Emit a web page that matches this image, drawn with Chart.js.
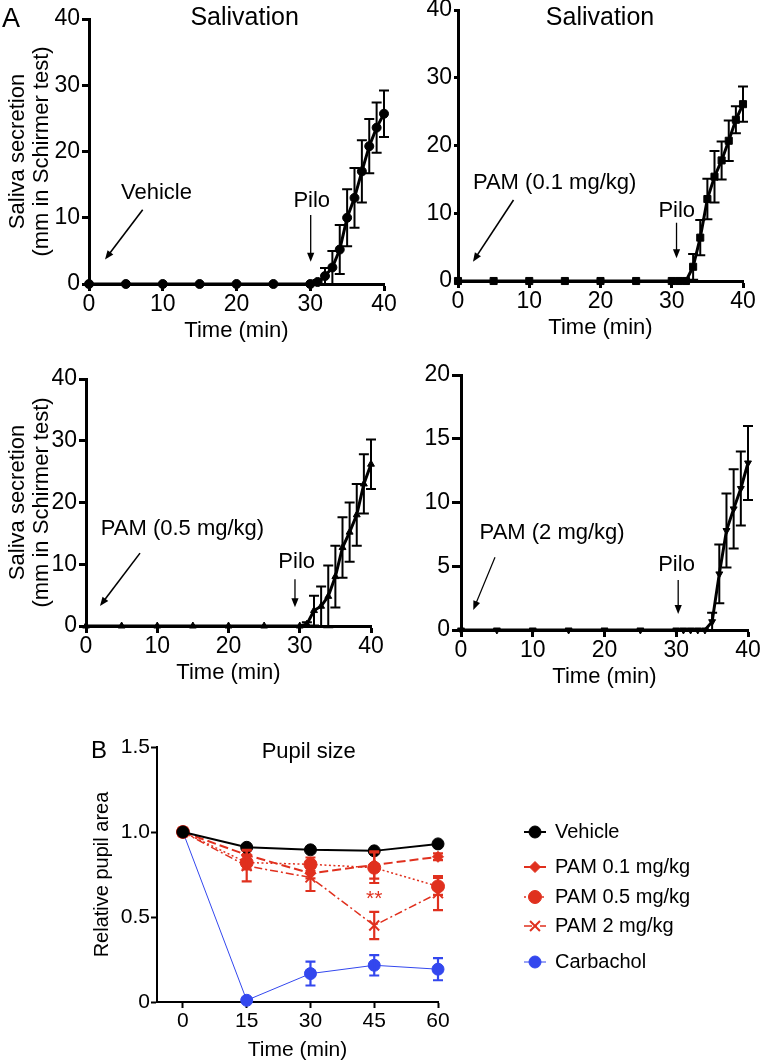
<!DOCTYPE html>
<html>
<head>
<meta charset="utf-8">
<script src="https://cdn.jsdelivr.net/npm/chart.js@4.4.1/dist/chart.umd.min.js"></script>
<style>
  body { margin: 0; background: #fff; width: 762px; height: 1064px; position: relative; overflow: hidden; }
  canvas { position: absolute; }
</style>
</head>
<body>
<canvas id="c1" width="400" height="347" style="left:0;top:0"></canvas>
<canvas id="c2" width="382" height="354" style="left:380px;top:-10px"></canvas>
<canvas id="c3" width="395" height="349" style="left:0;top:340px"></canvas>
<canvas id="c4" width="382" height="353" style="left:380px;top:340px"></canvas>
<canvas id="c5" width="762" height="364" style="left:0;top:700px"></canvas>
<script>
// ---- DATA ----
// A: salivation (mm in Schirmer test), mean and SEM
const salivaTimes = [0, 5, 10, 15, 20, 25, 30, 31, 32, 33, 34, 35, 36, 37, 38, 39, 40];
const vehicleSaliva = [0, 0, 0, 0, 0, 0, 0, 0.3, 1.2, 2.5, 5.2, 10, 13, 17, 20.8, 23.6, 25.7];
const vehicleSalivaErr = [0, 0, 0, 0, 0, 0, 0, 0.3, 1.2, 2.5, 3.7, 4.3, 4.5, 4.7, 4.1, 3.8, 3.5];
const pam01Saliva = [0, 0, 0, 0, 0, 0, 0, 0, 0, 2.1, 6.4, 12.1, 15.4, 17.8, 20.7, 23.8, 26.1];
const pam01SalivaErr = [0, 0, 0, 0, 0, 0, 0, 0, 0, 1.9, 2.6, 3, 3.8, 2.8, 3, 2, 2.6];
const pam05Saliva = [0, 0, 0, 0, 0, 0, 0, 0.3, 2.5, 3.2, 4.8, 8, 12.7, 15.2, 18, 23, 26.2];
const pam05SalivaErr = [0, 0, 0, 0, 0, 0, 0, 0.3, 2.4, 3.2, 5, 5, 4.9, 4.8, 5, 4.8, 4];
const pam2Saliva = [0, 0, 0, 0, 0, 0, 0, 0, 0, 0, 0, 0.65, 4.4, 7.8, 9.5, 11.1, 13.1];
const pam2SalivaErr = [0, 0, 0, 0, 0, 0, 0, 0, 0, 0, 0, 0.7, 2.3, 2.9, 3.1, 2.9, 2.9];

// B: relative pupil area
const pupilTimes = [0, 15, 30, 45, 60];
const pupilLabels = ['Vehicle', 'PAM 0.1 mg/kg', 'PAM 0.5 mg/kg', 'PAM 2 mg/kg', 'Carbachol'];
const vehiclePupil = [1.0, 0.91, 0.895, 0.889, 0.93];
const vehiclePupilErr = [0, 0, 0, 0, 0];
const pam01Pupil = [1.0, 0.865, 0.757, 0.806, 0.854];
const pam01PupilErr = [0, 0.03, 0.03, 0.08, 0.02];
const pam05Pupil = [1.0, 0.82, 0.81, 0.79, 0.68];
const pam05PupilErr = [0, 0.04, 0.04, 0.09, 0.05];
const pam2Pupil = [1.0, 0.80, 0.733, 0.45, 0.64];
const pam2PupilErr = [0, 0.09, 0.08, 0.08, 0.1];
const carbPupil = [1.0, 0.01, 0.167, 0.216, 0.193];
const carbPupilErr = [0, 0, 0.07, 0.06, 0.065];

const salivaXTicks = [0, 10, 20, 30, 40];
const pupilXTicks = [0, 15, 30, 45, 60];
const pupilYTicks = [0, 0.5, 1.0, 1.5];

const RED = '#e0301e';
const BLUE = '#3347ee';
const FONT = "'Liberation Sans', Arial, Helvetica, sans-serif";

Chart.defaults.font.family = FONT;
Chart.defaults.color = '#000';

// text, arrows, error bars, legend — per canvas
const decor = {
  c1: { cap: 5, errWidth: 2,
        letter: { text: 'A', x: 2, y: 27, size: 27 },
        title: { text: 'Salivation', x: 21.1, y: 39.06, size: 25 },
        notes: [{ text: 'Vehicle', x: 9.15, y: 12.9, size: 22 }, { text: 'Pilo', x: 30.2, y: 11.6, size: 22 }],
        arrows: [{ from: [7.28, 11.2], to: [2.17, 3.7], w: 1.6 }, { from: [30.06, 10.4], to: [30.06, 3.36], w: 1.3 }] },
  c2: { cap: 5, errWidth: 2,
        title: { text: 'Salivation', x: 19.93, y: 37.8, size: 25 },
        notes: [{ text: 'PAM (0.1 mg/kg)', x: 13.56, y: 13.6, size: 22 }, { text: 'Pilo', x: 30.7, y: 9.5, size: 22 }],
        arrows: [{ from: [7.79, 11.96], to: [2.1, 2.85], w: 1.6 }, { from: [30.67, 8.6], to: [30.67, 3.35], w: 1.3 }] },
  c3: { cap: 5, errWidth: 2,
        notes: [{ text: 'PAM (0.5 mg/kg)', x: 13.54, y: 14.76, size: 22 }, { text: 'Pilo', x: 29.57, y: 9.35, size: 22 }],
        arrows: [{ from: [7.58, 11.8], to: [1.96, 3.24], w: 1.6 }, { from: [29.33, 7.57], to: [29.33, 3.03], w: 1.3 }] },
  c4: { cap: 5, errWidth: 2,
        notes: [{ text: 'PAM (2 mg/kg)', x: 12.7, y: 7.14, size: 22 }, { text: 'Pilo', x: 30.04, y: 4.65, size: 22 }],
        arrows: [{ from: [4.74, 5.7], to: [1.71, 1.57], w: 1.2 }, { from: [30.27, 3.92], to: [30.27, 1.25], w: 1.3 }] },
  c5: { cap: 5, errWidth: 2.2,
        letter: { text: 'B', x: 91, y: 58, size: 24 },
        title: { text: 'Pupil size', x: 29.6, y: 1.435, size: 22 },
        notes: [{ text: '**', x: 45, y: 0.57, size: 21, color: RED }],
        arrows: [],
        legend: { lineX: [524, 546], textX: 555, rows: [132, 167, 197, 226, 262], size: 20 } }
};

function drawArrow(ctx, x1, y1, x2, y2, w) {
  const head = 9, half = 3.6;
  const a = Math.atan2(y2 - y1, x2 - x1);
  const c = Math.cos(a), s = Math.sin(a);
  ctx.lineWidth = w;
  ctx.beginPath();
  ctx.moveTo(x1, y1);
  ctx.lineTo(x2 - c * head * 0.8, y2 - s * head * 0.8);
  ctx.stroke();
  ctx.beginPath();
  ctx.moveTo(x2, y2);
  ctx.lineTo(x2 - head * c + half * s, y2 - head * s - half * c);
  ctx.lineTo(x2 - head * c - half * s, y2 - head * s + half * c);
  ctx.closePath();
  ctx.fill();
}

function marker(ctx, ds, x, y) {
  const opts = { pointStyle: ds.pointStyle, radius: ds.pointRadius, borderWidth: ds.pointBorderWidth, rotation: ds.pointRotation || 0 };
  if (Chart.helpers && Chart.helpers.drawPoint) {
    Chart.helpers.drawPoint(ctx, opts, x, y);
  } else {
    ctx.beginPath(); ctx.arc(x, y, ds.pointRadius, 0, Math.PI * 2); ctx.fill();
  }
}

const decorPlugin = {
  id: 'decor',
  afterDatasetsDraw(chart) {
    const d = decor[chart.canvas.id];
    const ctx = chart.ctx;
    const xs = chart.scales.x, ys = chart.scales.y;

    // ERROR BARS
    chart.data.datasets.forEach((ds, di) => {
      if (!ds.errors) return;
      const meta = chart.getDatasetMeta(di);
      ctx.save();
      ctx.strokeStyle = ds.borderColor;
      ctx.lineWidth = d.errWidth;
      ctx.setLineDash([]);
      meta.data.forEach((pt, i) => {
        const e = ds.errors[i];
        if (!e) return;
        const v = ds.data[i].y;
        const top = ys.getPixelForValue(v + e), bot = ys.getPixelForValue(v - e);
        ctx.beginPath();
        ctx.moveTo(pt.x, top); ctx.lineTo(pt.x, bot);
        ctx.moveTo(pt.x - d.cap, top); ctx.lineTo(pt.x + d.cap, top);
        ctx.moveTo(pt.x - d.cap, bot); ctx.lineTo(pt.x + d.cap, bot);
        ctx.stroke();
      });
      ctx.restore();
    });

    ctx.save();
    ctx.fillStyle = '#000';
    ctx.strokeStyle = '#000';

    // TITLE
    if (d.title) {
      ctx.font = d.title.size + 'px ' + FONT;
      ctx.textAlign = 'center';
      ctx.textBaseline = 'alphabetic';
      ctx.fillText(d.title.text, xs.getPixelForValue(d.title.x), ys.getPixelForValue(d.title.y));
    }
    // PANEL LETTER
    if (d.letter) {
      ctx.font = d.letter.size + 'px ' + FONT;
      ctx.textAlign = 'left';
      ctx.textBaseline = 'alphabetic';
      ctx.fillText(d.letter.text, d.letter.x, d.letter.y);
    }
    // NOTES
    d.notes.forEach(n => {
      ctx.fillStyle = n.color || '#000';
      ctx.font = n.size + 'px ' + FONT;
      ctx.textAlign = 'center';
      ctx.textBaseline = 'alphabetic';
      ctx.fillText(n.text, xs.getPixelForValue(n.x), ys.getPixelForValue(n.y));
    });
    ctx.fillStyle = '#000';
    // ARROWS
    d.arrows.forEach(a => {
      drawArrow(ctx, xs.getPixelForValue(a.from[0]), ys.getPixelForValue(a.from[1]),
                xs.getPixelForValue(a.to[0]), ys.getPixelForValue(a.to[1]), a.w);
    });

    // LEGEND
    if (d.legend) {
      const L = d.legend;
      chart.data.datasets.forEach((ds, i) => {
        const y = L.rows[i];
        ctx.strokeStyle = ds.borderColor;
        ctx.fillStyle = ds.borderColor;
        ctx.lineWidth = ds.borderWidth;
        ctx.setLineDash(ds.borderDash || []);
        ctx.beginPath();
        ctx.moveTo(L.lineX[0], y); ctx.lineTo(L.lineX[1], y);
        ctx.stroke();
        ctx.setLineDash([]);
        ctx.lineWidth = ds.pointBorderWidth;
        marker(ctx, ds, (L.lineX[0] + L.lineX[1]) / 2, y);
        ctx.fillStyle = '#000';
        ctx.font = L.size + 'px ' + FONT;
        ctx.textAlign = 'left';
        ctx.textBaseline = 'middle';
        ctx.fillText(pupilLabels[i], L.textX, y);
      });
    }
    ctx.restore();
  }
};

function axisStyle(tickLen, width) {
  return {
    grid: { drawOnChartArea: false, tickLength: tickLen, tickColor: '#000', tickWidth: width },
    border: { color: '#000', width: width }
  };
}

// SALIVATION PANELS
function salivaChart(id, cfg) {
  const yScale = Object.assign({
    type: 'linear', min: 0, max: cfg.yMax,
    ticks: { stepSize: cfg.yStep, font: { size: 23 }, padding: 2 },
    afterFit: s => { s.width = cfg.yW; }
  }, axisStyle(cfg.tickLen, 3));
  if (cfg.yTitle) {
    yScale.title = { display: true, text: ['Saliva secretion', '(mm in Schirmer test)'],
      font: { size: 22, lineHeight: 1.1 }, color: '#000', padding: { top: 6, bottom: 0 } };
  }
  return new Chart(document.getElementById(id), {
    type: 'line',
    data: {
      datasets: [{
        data: salivaTimes.map((t, i) => ({ x: t, y: cfg.values[i] })),
        errors: cfg.errors,
        borderColor: '#000',
        backgroundColor: '#000',
        borderWidth: 3,
        pointStyle: cfg.pointStyle,
        pointRotation: cfg.rotation || 0,
        pointRadius: cfg.radius,
        pointBackgroundColor: '#000',
        pointBorderColor: '#000',
        pointBorderWidth: 1,
        tension: 0,
        clip: false
      }]
    },
    options: {
      responsive: false, animation: false, events: [], devicePixelRatio: 1,
      layout: { padding: cfg.pad },
      plugins: { legend: { display: false }, tooltip: { enabled: false } },
      scales: {
        x: Object.assign({
          type: 'linear', min: 0, max: 40,
          ticks: { font: { size: 23 }, padding: 0, maxRotation: 0 },
          afterBuildTicks: s => { s.ticks = salivaXTicks.map(v => ({ value: v })); },
          title: { display: true, text: 'Time (min)', font: { size: 22, lineHeight: 1.15 }, color: '#000', padding: { top: 0, bottom: 3 } },
          afterFit: s => { s.height = 63; }
        }, axisStyle(7, 3)),
        y: yScale
      }
    },
    plugins: [decorPlugin]
  });
}

salivaChart('c1', { values: vehicleSaliva, errors: vehicleSalivaErr, pointStyle: 'circle', radius: 4.5,
  yMax: 40, yStep: 10, yTitle: true, yW: 89, tickLen: 7, pad: { top: 19, right: 16, left: 0, bottom: 0 } });
salivaChart('c2', { values: pam01Saliva, errors: pam01SalivaErr, pointStyle: 'rect', radius: 5,
  yMax: 40, yStep: 10, yTitle: false, yW: 78, tickLen: 4, pad: { top: 20, right: 19, left: 0, bottom: 0 } });
salivaChart('c3', { values: pam05Saliva, errors: pam05SalivaErr, pointStyle: 'triangle', radius: 4,
  yMax: 40, yStep: 10, yTitle: true, yW: 86, tickLen: 7, pad: { top: 39, right: 24, left: 0, bottom: 0 } });
salivaChart('c4', { values: pam2Saliva, errors: pam2SalivaErr, pointStyle: 'triangle', rotation: 180, radius: 4,
  yMax: 20, yStep: 5, yTitle: false, yW: 81, tickLen: 9, pad: { top: 35, right: 14, left: 0, bottom: 0 } });

// PUPIL SIZE PANEL
function pupilSet(values, errors, color, style, radius, width, dash, pbw) {
  return {
    data: pupilTimes.map((t, i) => ({ x: t, y: values[i] })),
    errors: errors,
    borderColor: color,
    backgroundColor: color,
    borderWidth: width,
    borderDash: dash,
    pointStyle: style,
    pointRadius: radius,
    pointBackgroundColor: color,
    pointBorderColor: color,
    pointBorderWidth: pbw,
    tension: 0,
    clip: false
  };
}

new Chart(document.getElementById('c5'), {
  type: 'line',
  data: {
    datasets: [
      pupilSet(vehiclePupil, vehiclePupilErr, '#000', 'circle', 6, 2, [], 1),
      pupilSet(pam01Pupil, pam01PupilErr, RED, 'rectRot', 5.5, 2, [9, 4], 1),
      pupilSet(pam05Pupil, pam05PupilErr, RED, 'circle', 6.5, 1.5, [2, 2.5], 1),
      pupilSet(pam2Pupil, pam2PupilErr, RED, 'crossRot', 7, 1.5, [8, 3, 2, 3], 2),
      pupilSet(carbPupil, carbPupilErr, BLUE, 'circle', 6, 1, [], 1)
    ]
  },
  options: {
    responsive: false, animation: false, events: [], devicePixelRatio: 1,
    layout: { padding: { top: 47, right: 324, left: 0, bottom: 0 } },
    plugins: { legend: { display: false }, tooltip: { enabled: false } },
    scales: {
      x: Object.assign({
        type: 'linear', min: -6.1, max: 60,
        ticks: { font: { size: 21 }, padding: 1, maxRotation: 0 },
        afterBuildTicks: s => { s.ticks = pupilXTicks.map(v => ({ value: v })); },
        title: { display: true, text: 'Time (min)', font: { size: 21, lineHeight: 1.2 }, color: '#000', padding: { top: 0, bottom: 1 } },
        afterFit: s => { s.height = 62; }
      }, axisStyle(6, 2)),
      y: Object.assign({
        type: 'linear', min: 0, max: 1.5,
        ticks: { font: { size: 21 }, padding: 1, callback: v => (v === 0 ? '0' : v.toFixed(1)) },
        afterBuildTicks: s => { s.ticks = pupilYTicks.map(v => ({ value: v })); },
        title: { display: true, text: 'Relative pupil area', font: { size: 20, lineHeight: 1.2 }, color: '#000', padding: { top: 90, bottom: 0 } },
        afterFit: s => { s.width = 157; }
      }, axisStyle(6, 2))
    }
  },
  plugins: [decorPlugin]
});
</script>
</body>
</html>
